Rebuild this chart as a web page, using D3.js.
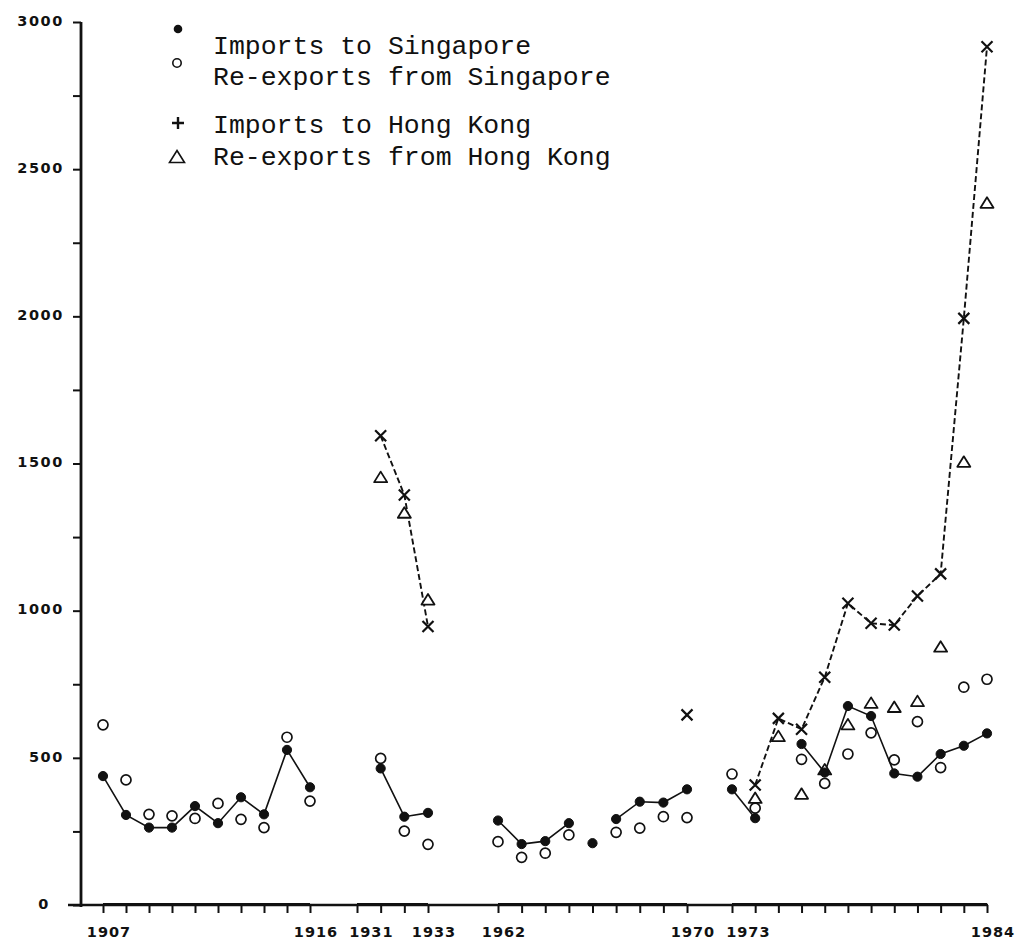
<!DOCTYPE html>
<html>
<head>
<meta charset="utf-8">
<script src="https://cdn.jsdelivr.net/npm/d3@7"></script>
<style>
  html, body { margin: 0; padding: 0; background: #fff; }
  svg { display: block; }
</style>
</head>
<body>
<svg id="chart" width="1022" height="941"></svg>
<script>
// ---------------- DATA ----------------
const years = [1907,1908,1909,1910,1911,1912,1913,1914,1915,1916,
               1931,1932,1933,
               1962,1963,1964,1965,1966,1967,1968,1969,1970,
               1973,1974,1975,1976,1977,1978,1979,1980,1981,1982,1983,1984];

const importsSingapore = [438,306,263,263,336,278,366,308,527,400,
                          464,300,313,
                          287,207,217,278,210,292,351,348,393,
                          393,295,null,547,450,676,642,447,436,513,541,583];

const reexportsSingapore = [612,425,308,303,294,345,291,263,570,353,
                            498,251,206,
                            215,162,176,238,null,247,261,300,297,
                            445,329,null,495,413,513,585,493,623,467,740,767];

const importsHongKong = [null,null,null,null,null,null,null,null,null,null,
                         1594,1393,946,
                         null,null,null,null,null,null,null,null,646,
                         null,408,634,597,774,1025,957,951,1050,1125,1993,2916];

const reexportsHongKong = [null,null,null,null,null,null,null,null,null,null,
                           1452,1331,1036,
                           null,null,null,null,null,null,null,null,null,
                           null,362,572,376,459,612,685,671,691,876,1504,2384];

// which consecutive years are joined by a line
const singaporeRuns = [[1907,1916],[1931,1933],[1962,1965],[1967,1970],[1973,1974],[1976,1984]];
const hongKongRuns  = [[1931,1933],[1974,1984]];

// axis segments (year spans) and their end labels
const axisSegments = [[1907,1916],[1930,1933],[1962,1970],[1973,1984]];
const segmentLabels = [["1907","1916"],["1931","1933"],["1962","1970"],["1973","1984"]];

const yTicks = [0,250,500,750,1000,1250,1500,1750,2000,2250,2500,2750,3000];

const legendItems = ["Imports to Singapore","Re-exports from Singapore","Imports to Hong Kong","Re-exports from Hong Kong"];

// ---------------- SCALES ----------------
const svg = d3.select("#chart");
svg.append("rect").attr("width",1022).attr("height",941).attr("fill","#fff");

const x = d3.scaleLinear()
  .domain([1907,1916,1930,1933,1962,1970,1973,1984])
  .range([103,310,357,428,498,687,732,987]);
const y = d3.scaleLinear().domain([0,3000]).range([905,22]);

const ink = "#111";

// ---------------- AXES ----------------
// Y axis
const yAxis = d3.axisLeft(y).tickValues(yTicks)
  .tickFormat(d => d % 500 === 0 ? String(d) : "")
  .tickSize(8).tickPadding(9);
const gy = svg.append("g").attr("transform","translate(81,0)").call(yAxis);
gy.select(".domain").remove();
gy.selectAll(".tick line").attr("stroke",ink).attr("stroke-width",2);
gy.selectAll(".tick text")
  .attr("fill",ink)
  .style("font-family","'DejaVu Sans', sans-serif")
  .style("font-weight","bold")
  .style("font-size","14.5px")
  .style("letter-spacing","1.6px")
  .attr("dy","0.22em");
gy.selectAll(".tick").filter(d => d === 0).select("text").attr("x",-31);
svg.append("line").attr("x1",81).attr("x2",81).attr("y1",y(3000)).attr("y2",y(0)+2)
  .attr("stroke",ink).attr("stroke-width",2.8);

// X axis
const allTickYears = [];
axisSegments.forEach(([a,b]) => { for (let t=a; t<=b; t++) allTickYears.push(t); });
const xAxis = d3.axisBottom(x).tickValues(allTickYears).tickFormat("").tickSize(8);
const gx = svg.append("g").attr("transform","translate(0,905)").call(xAxis);
gx.select(".domain").remove();
gx.selectAll(".tick line").attr("stroke",ink).attr("stroke-width",2);
svg.append("line").attr("x1",68).attr("x2",x(1984)+1).attr("y1",905).attr("y2",905)
  .attr("stroke",ink).attr("stroke-width",2.6);
axisSegments.forEach(([a,b]) => {
  svg.append("line").attr("x1",x(a)).attr("x2",x(b)).attr("y1",904).attr("y2",904)
    .attr("stroke",ink).attr("stroke-width",2.2);
});

const labelData = [];
axisSegments.forEach((seg,i) => {
  labelData.push({yr: seg[0], t: segmentLabels[i][0], start: true});
  labelData.push({yr: seg[1], t: segmentLabels[i][1], start: false});
});
const xl = svg.append("g").selectAll("text").data(labelData).join("text")
  .attr("x", d => x(d.yr) + 6)
  .attr("y", 937)
  .attr("text-anchor","middle")
  .attr("fill",ink)
  .style("font-family","'DejaVu Sans', sans-serif")
  .style("font-weight","bold")
  .style("font-size","14.5px")
  .style("letter-spacing","1px")
  .text(d => d.t);
// keep neighbouring labels apart
let prevEnd = -Infinity;
xl.each(function(){
  const bb = this.getBBox();
  const gap = 11;
  if (bb.x < prevEnd + gap) {
    const shift = prevEnd + gap - bb.x;
    d3.select(this).attr("x", +d3.select(this).attr("x") + shift);
    prevEnd = bb.x + bb.width + shift;
  } else prevEnd = bb.x + bb.width;
});

// ---------------- LINES ----------------
function seriesPoints(vals){
  return years.map((yr,i) => ({yr, v: vals[i]})).filter(d => d.v != null);
}
const line = d3.line().x(d => x(d.yr)).y(d => y(d.v));

function drawRuns(vals, runs, dash){
  const pts = seriesPoints(vals);
  runs.forEach(([a,b]) => {
    const seg = pts.filter(d => d.yr >= a && d.yr <= b);
    svg.append("path").attr("d", line(seg))
      .attr("fill","none").attr("stroke",ink)
      .attr("stroke-width", dash ? 1.9 : 1.6)
      .attr("stroke-dasharray", dash ? "6,3" : null);
  });
}
drawRuns(importsSingapore, singaporeRuns, false);
drawRuns(importsHongKong, hongKongRuns, true);

// ---------------- MARKERS ----------------
const triPath = "M0,-6L6.5,4.5L-6.5,4.5Z";
const crossPath = "M-5.5,-5.5L5.5,5.5M-5.5,5.5L5.5,-5.5";

svg.append("g").selectAll("circle").data(seriesPoints(reexportsSingapore)).join("circle")
  .attr("cx", d => x(d.yr)).attr("cy", d => y(d.v)).attr("r",5)
  .attr("fill","#fff").attr("stroke",ink).attr("stroke-width",1.7);

svg.append("g").selectAll("path").data(seriesPoints(reexportsHongKong)).join("path")
  .attr("transform", d => `translate(${x(d.yr)},${y(d.v)})`)
  .attr("d", triPath).attr("fill","#fff").attr("stroke",ink).attr("stroke-width",1.8)
  .attr("stroke-linejoin","round");

svg.append("g").selectAll("path").data(seriesPoints(importsHongKong)).join("path")
  .attr("transform", d => `translate(${x(d.yr)},${y(d.v)})`)
  .attr("d", crossPath).attr("fill","none").attr("stroke",ink).attr("stroke-width",2.2);

svg.append("g").selectAll("circle").data(seriesPoints(importsSingapore)).join("circle")
  .attr("cx", d => x(d.yr)).attr("cy", d => y(d.v)).attr("r",4.6)
  .attr("fill",ink).attr("stroke",ink).attr("stroke-width",1);

// ---------------- LEGEND ----------------
const lg = svg.append("g");
const legendMarkerY = [29, 63, 123, 157];
const legendTextY = [54, 85, 133, 165];
lg.append("circle").attr("cx",178).attr("cy",legendMarkerY[0]).attr("r",4.3).attr("fill",ink);
lg.append("circle").attr("cx",177).attr("cy",legendMarkerY[1]).attr("r",4.2).attr("fill","#fff")
  .attr("stroke",ink).attr("stroke-width",1.6);
lg.append("path").attr("transform",`translate(178,${legendMarkerY[2]})`)
  .attr("d","M-6,0L6,0M0,-6L0,6").attr("stroke",ink).attr("stroke-width",2.4);
lg.append("path").attr("transform",`translate(177,${legendMarkerY[3]})`)
  .attr("d","M0,-6.5L7.5,5.5L-7.5,5.5Z").attr("fill","#fff").attr("stroke",ink).attr("stroke-width",1.6);
lg.selectAll("text").data(legendItems).join("text")
  .attr("x",213).attr("y",(d,i) => legendTextY[i])
  .attr("fill",ink)
  .style("font-family","'Liberation Mono', 'Courier New', monospace")
  .style("font-size","26.5px")
  .text(d => d);
</script>
</body>
</html>
